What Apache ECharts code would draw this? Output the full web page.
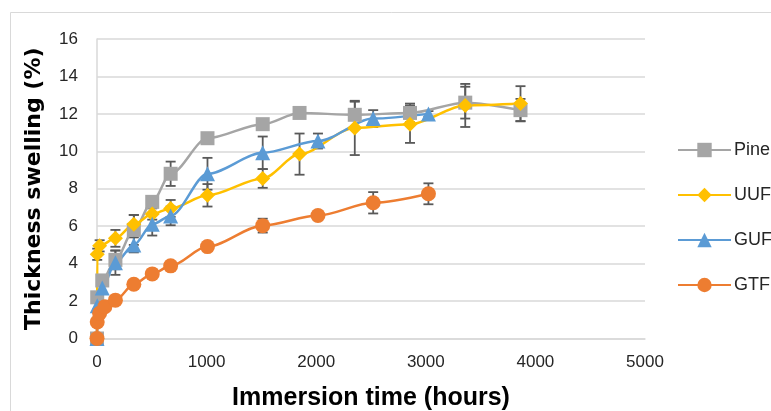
<!DOCTYPE html>
<html>
<head>
<meta charset="utf-8">
<script src="https://cdn.jsdelivr.net/npm/echarts@6/dist/echarts.min.js"></script>
<style>html,body{margin:0;padding:0;background:#fff}#c{width:771px;height:411px}</style>
</head>
<body>
<div id="c"></div>
<script>
// ---- data ----
const pineHours = [0, 2, 48, 168, 336, 504, 672, 1008, 1512, 1848, 2352, 2856, 3360, 3864];
const pineValues = [0, 2.2, 3.1, 4.2, 5.8, 7.3, 8.8, 10.7, 11.45, 12.05, 11.95, 12.05, 12.6, 12.2];
const pineErrors = [0, 0.15, 0.3, 0.5, 0.8, 0.3, 0.65, 0.15, 0.2, 0.15, 0.7, 0.5, 0.85, 0.6];

const uufHours = [0, 2, 24, 168, 336, 504, 672, 1008, 1512, 1848, 2352, 2856, 3360, 3864];
const uufValues = [0, 4.5, 4.95, 5.35, 6.1, 6.65, 6.95, 7.65, 8.55, 9.85, 11.25, 11.45, 12.45, 12.55];
const uufErrors = [0, 0.3, 0.3, 0.45, 0.5, 0.3, 0.45, 0.6, 0.5, 1.1, 1.45, 1.0, 1.15, 0.93];

const gufHours = [0, 2, 48, 168, 336, 504, 672, 1008, 1512, 2016, 2520, 3024];
const gufValues = [0, 1.75, 2.7, 4.05, 5.0, 6.1, 6.55, 8.8, 9.92, 10.55, 11.75, 12.0];
const gufErrors = [0, 0.2, 0.3, 0.65, 0.4, 0.6, 0.5, 0.85, 0.87, 0.4, 0.45, 0.15];

const gtfHours = [0, 2, 24, 72, 168, 336, 504, 672, 1008, 1512, 2016, 2520, 3024];
const gtfValues = [0, 0.88, 1.35, 1.7, 2.05, 2.9, 3.45, 3.88, 4.91, 6.03, 6.57, 7.25, 7.73];
const gtfErrors = [0, 0.05, 0.1, 0.1, 0.15, 0.2, 0.15, 0.15, 0.2, 0.37, 0.25, 0.57, 0.56];

const seriesNames = ['Pine', 'UUF', 'GUF', 'GTF'];
const xTicks = [0, 1000, 2000, 3000, 4000, 5000];
const yTicks = [0, 2, 4, 6, 8, 10, 12, 14, 16];

// ---- build ----
const colors = ['#A5A5A5', '#FFC000', '#5B9BD5', '#ED7D31'];
const symbols = ['rect', 'diamond', 'triangle', 'circle'];
const symSizes = [14, 15, 15, 15];
const sets = [
  [pineHours, pineValues, pineErrors],
  [uufHours, uufValues, uufErrors],
  [gufHours, gufValues, gufErrors],
  [gtfHours, gtfValues, gtfErrors]
];

const series = [];
sets.forEach((s, i) => {
  const [hx, vy, er] = s;
  series.push({
    name: seriesNames[i] + '_err',
    type: 'custom',
    z: 1,
    silent: true,
    data: hx.map((h, k) => [h, vy[k] - er[k], vy[k] + er[k]]),
    renderItem: function (params, api) {
      const lo = api.coord([api.value(0), api.value(1)]);
      const hi = api.coord([api.value(0), api.value(2)]);
      if (Math.abs(hi[1] - lo[1]) < 1) return null;
      const w = 5;
      const st = { stroke: '#595959', lineWidth: 1.8 };
      return {
        type: 'group',
        children: [
          { type: 'line', shape: { x1: lo[0], y1: lo[1], x2: hi[0], y2: hi[1] }, style: st },
          { type: 'line', shape: { x1: lo[0] - w, y1: lo[1], x2: lo[0] + w, y2: lo[1] }, style: st },
          { type: 'line', shape: { x1: hi[0] - w, y1: hi[1], x2: hi[0] + w, y2: hi[1] }, style: st }
        ]
      };
    }
  });
});
sets.forEach((s, i) => {
  const [hx, vy] = s;
  series.push({
    name: seriesNames[i],
    type: 'line',
    z: 3,
    smooth: 0.3,
    smoothMonotone: 'x',
    symbol: symbols[i],
    symbolSize: symSizes[i],
    showAllSymbol: true,
    data: hx.map((h, k) => [h, vy[k]]),
    lineStyle: { color: colors[i], width: 2.5 },
    itemStyle: { color: colors[i], borderWidth: 0 }
  });
});

const chart = echarts.init(document.getElementById('c'), null, { renderer: 'canvas' });
chart.setOption({
  animation: false,
  backgroundColor: '#fff',
  graphic: [{
    type: 'rect', left: 8, top: 10, shape: { x: 0, y: 0, width: 800, height: 420 },
    style: { fill: 'none', stroke: '#d9d9d9', lineWidth: 1 }, z: -1
  }],
  grid: { left: 97, right: 126, top: 39, bottom: 72.5, containLabel: false, outerBoundsMode: 'none' },
  legend: {
    orient: 'vertical',
    left: 672,
    top: 136,
    itemWidth: 53,
    itemHeight: 18,
    itemGap: 27,
    data: seriesNames,
    textStyle: { fontFamily: 'Liberation Sans', fontSize: 18, color: '#262626', padding: [0, 0, 0, -2] }
  },
  xAxis: {
    type: 'value',
    min: xTicks[0],
    max: xTicks[xTicks.length - 1],
    interval: 1000,
    name: 'Immersion time (hours)',
    nameLocation: 'middle',
    nameGap: 47,
    nameTextStyle: { fontFamily: 'Liberation Sans', fontWeight: 'bold', fontSize: 25, color: '#000' },
    axisLine: { show: true, lineStyle: { color: '#d9d9d9', width: 1.5 } },
    axisTick: { show: false },
    splitLine: { show: false },
    axisLabel: { fontFamily: 'Liberation Sans', fontSize: 17, color: '#262626', margin: 15, formatter: v => String(v) }
  },
  yAxis: {
    type: 'value',
    min: yTicks[0],
    max: yTicks[yTicks.length - 1],
    interval: 2,
    name: 'Thickness swelling (%)',
    nameLocation: 'middle',
    nameGap: 52,
    nameTextStyle: { fontFamily: 'DejaVu Sans', fontWeight: 'bold', fontSize: 22, color: '#000' },
    axisLine: { show: true, lineStyle: { color: '#d9d9d9', width: 1.5 } },
    axisTick: { show: false },
    splitLine: { show: true, lineStyle: { color: '#d9d9d9', width: 1.5 } },
    axisLabel: { fontFamily: 'Liberation Sans', fontSize: 17, color: '#262626', margin: 19, formatter: v => String(v) }
  },
  series: series
});
</script>
</body>
</html>
